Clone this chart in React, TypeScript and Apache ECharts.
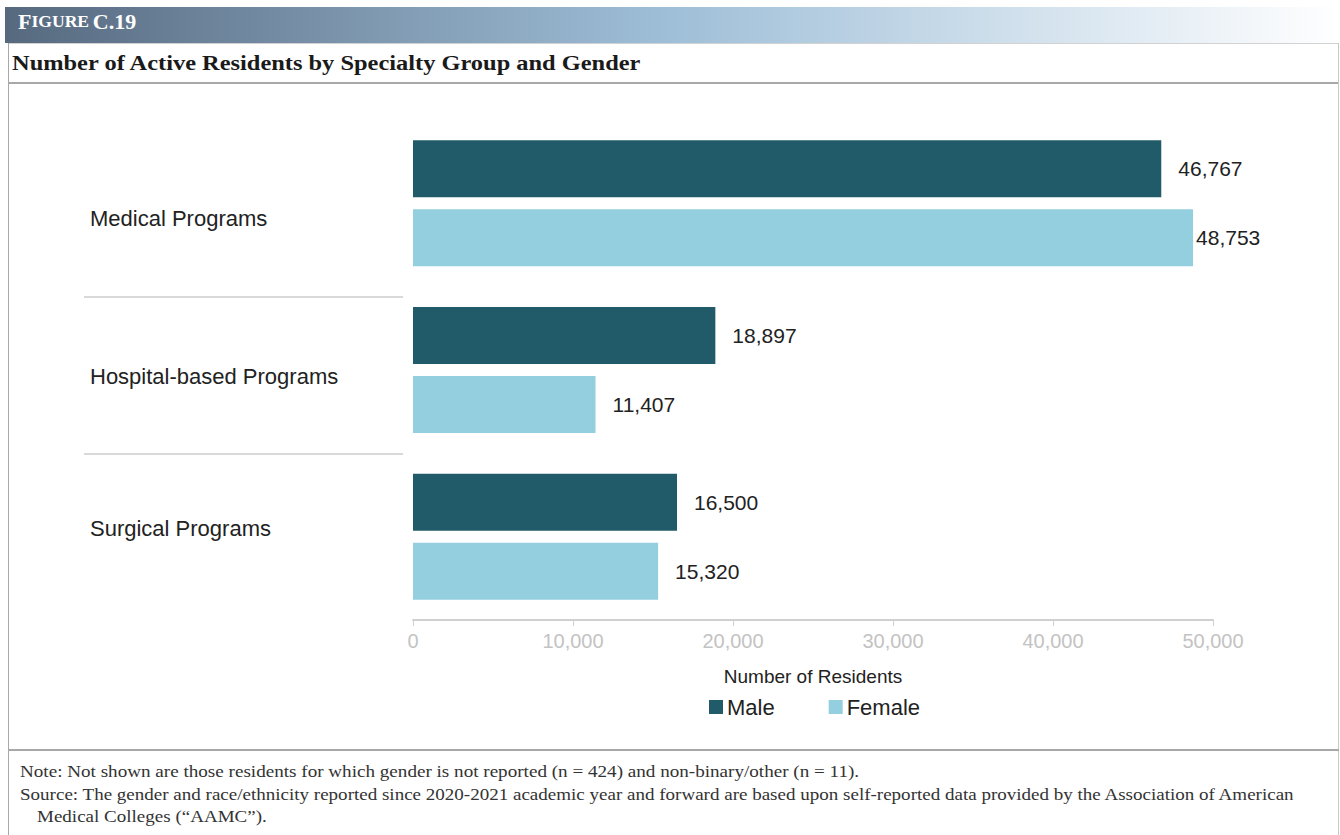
import React, { useEffect, useRef } from "react";
import * as echarts from "echarts";

const categories = ["Medical Programs", "Hospital-based Programs", "Surgical Programs"];
const maleValues = [46767, 18897, 16500];
const femaleValues = [48753, 11407, 15320];
const xTicks = [0, 10000, 20000, 30000, 40000, 50000];

const SANS = "'Liberation Sans', Arial, sans-serif";
const SERIF = "'Liberation Serif', 'Times New Roman', serif";

export default function App() {
  const ref = useRef<HTMLDivElement>(null);
  useEffect(() => {
    if (!ref.current) return;
    const chart = echarts.init(ref.current, undefined, { renderer: "svg" });
    const fmt = (v: number) => v.toLocaleString("en-US");
    const catRich: Record<string, any> = {
      c0: { fontSize: 22, color: "#222", fontFamily: SANS, padding: [30, 0, 0, 0] },
      c1: { fontSize: 22, color: "#222", fontFamily: SANS, padding: [12, 0, 0, 0] },
      c2: { fontSize: 22, color: "#222", fontFamily: SANS, padding: [0, 0, 16, 0] },
    };
    const valueLabel = {
      show: true,
      position: "right",
      distance: 17,
      color: "#222",
      fontSize: 21,
      fontFamily: SANS,
      formatter: (p: any) => fmt(p.value),
    };
    chart.setOption({
      animation: false,
      grid: { left: 413, right: 127, top: 120, bottom: 215, containLabel: false },
      xAxis: {
        type: "value",
        min: xTicks[0],
        max: xTicks[xTicks.length - 1],
        interval: 10000,
        axisLine: { show: true, lineStyle: { color: "#d0d0d0", width: 2 } },
        axisTick: { show: true, length: 6, lineStyle: { color: "#d0d0d0" } },
        splitLine: { show: false },
        axisLabel: {
          color: "#c3c3c3",
          fontSize: 20,
          fontFamily: SANS,
          margin: 11,
          formatter: (v: number) => fmt(v),
        },
        name: "Number of Residents",
        nameLocation: "middle",
        nameGap: 47,
        nameTextStyle: { color: "#222", fontSize: 19, fontFamily: SANS },
      },
      yAxis: {
        type: "category",
        data: categories,
        inverse: true,
        axisLine: { show: false },
        axisTick: { show: false },
        axisLabel: {
          align: "left",
          margin: 323,
          formatter: (v: string) => {
            const i = categories.indexOf(v);
            return `{c${i}|${v}}`;
          },
          rich: catRich,
        },
      },
      legend: {
        data: ["Male", "Female"],
        left: 709,
        top: 696,
        padding: 0,
        itemWidth: 14,
        itemHeight: 14,
        itemGap: 54,
        icon: "rect",
        textStyle: { fontSize: 22, color: "#222", fontFamily: SANS, padding: [0, 0, 0, -1] },
      },
      series: [
        {
          name: "Male",
          type: "bar",
          data: maleValues,
          barWidth: 57,
          barGap: "21%",
          itemStyle: { color: "#215b69" },
          label: valueLabel,
        },
        {
          name: "Female",
          type: "bar",
          data: femaleValues.map((v, i) => ({
            value: v,
            label: i === 0 ? { distance: 3 } : undefined,
          })),
          barWidth: 57,
          barGap: "21%",
          itemStyle: { color: "#94cfdf" },
          label: valueLabel,
        },
      ],
      graphic: [
        {
          type: "rect",
          shape: { x: 5, y: 7, width: 1335, height: 36 },
          style: {
            fill: new echarts.graphic.LinearGradient(0, 0, 1, 0, [
              { offset: 0, color: "#56697f" },
              { offset: 0.5, color: "#9fbfd8" },
              { offset: 1, color: "#ffffff" },
            ]),
          },
          silent: true,
        },
        {
          type: "text",
          x: 18,
          y: 12,
          scaleX: 1.1,
          style: {
            text: "{a|F}{b|IGURE} {a|C.19}",
            rich: {
              a: { fontSize: 20, fontWeight: "bold", fill: "#fff", fontFamily: SERIF },
              b: { fontSize: 16, fontWeight: "bold", fill: "#fff", fontFamily: SERIF },
            },
          },
        },
        { type: "line", shape: { x1: 8, y1: 43.5, x2: 1339, y2: 43.5 }, style: { stroke: "#d2d2d2", lineWidth: 1 } },
        {
          type: "text",
          x: 12,
          y: 51,
          scaleX: 1.11,
          style: {
            text: "Number of Active Residents by Specialty Group and Gender",
            fontSize: 22,
            fontWeight: "bold",
            fill: "#1a1a1a",
            fontFamily: SERIF,
          },
        },
        { type: "line", shape: { x1: 8, y1: 83, x2: 1339, y2: 83 }, style: { stroke: "#a8a8a8", lineWidth: 2 } },
        { type: "line", shape: { x1: 8.5, y1: 43, x2: 8.5, y2: 835 }, style: { stroke: "#a8a8a8", lineWidth: 1 } },
        { type: "line", shape: { x1: 1338.5, y1: 43, x2: 1338.5, y2: 835 }, style: { stroke: "#c8c8c8", lineWidth: 1 } },
        { type: "line", shape: { x1: 8, y1: 750, x2: 1339, y2: 750 }, style: { stroke: "#a8a8a8", lineWidth: 2 } },
        { type: "line", shape: { x1: 84, y1: 297, x2: 403, y2: 297 }, style: { stroke: "#d9d9d9", lineWidth: 2 } },
        { type: "line", shape: { x1: 84, y1: 454, x2: 403, y2: 454 }, style: { stroke: "#d9d9d9", lineWidth: 2 } },
        {
          type: "text",
          x: 20,
          y: 763,
          scaleX: 1.125,
          style: {
            text: "Note: Not shown are those residents for which gender is not reported (n = 424) and non-binary/other (n = 11).",
            fontSize: 17,
            fill: "#333",
            fontFamily: SERIF,
          },
        },
        {
          type: "text",
          x: 20,
          y: 786,
          scaleX: 1.12,
          style: {
            text: "Source: The gender and race/ethnicity reported since 2020-2021 academic year and forward are based upon self-reported data provided by the Association of American",
            fontSize: 17,
            fill: "#333",
            fontFamily: SERIF,
          },
        },
        {
          type: "text",
          x: 37,
          y: 808,
          scaleX: 1.12,
          style: {
            text: "Medical Colleges (\u201CAAMC\u201D).",
            fontSize: 17,
            fill: "#333",
            fontFamily: SERIF,
          },
        },
      ],
    });
    return () => chart.dispose();
  }, []);
  return (
    <div style={{ position: "fixed", left: 0, top: 0, width: 1340, height: 835, background: "#fff" }}>
      <div ref={ref} style={{ width: 1340, height: 835 }} />
    </div>
  );
}
